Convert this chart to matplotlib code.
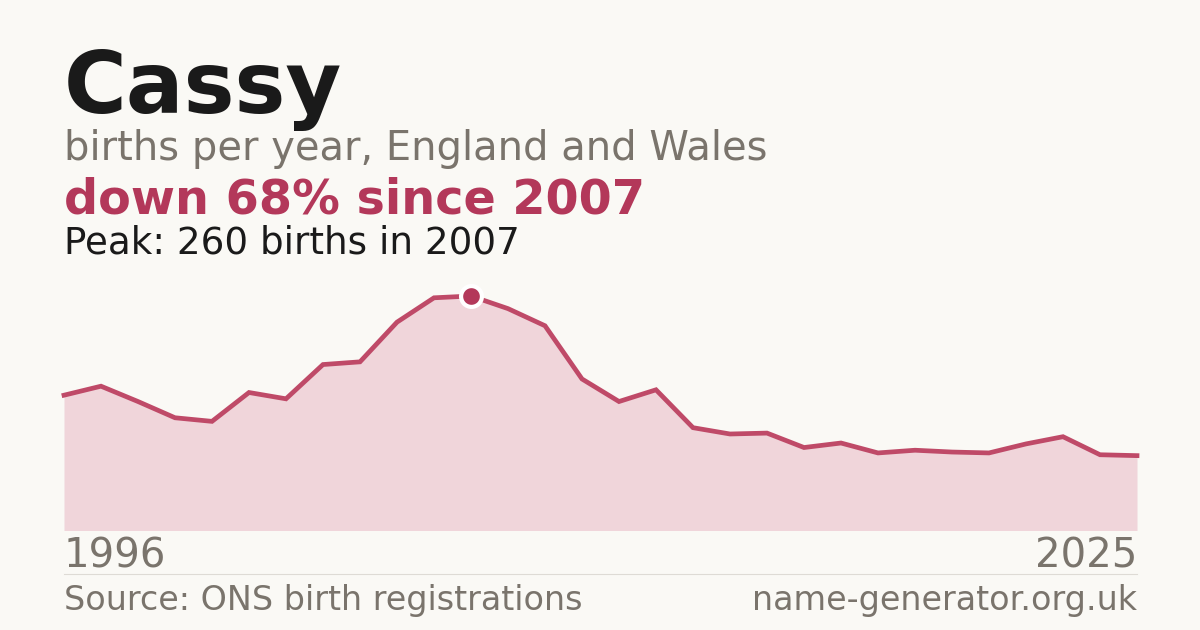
import matplotlib
matplotlib.use("Agg")
import matplotlib.pyplot as plt

years = list(range(1996, 2026))
births = [150, 160, 143, 125, 121, 153, 146, 184, 187, 231,
          258, 260, 246, 227, 168, 143, 156, 114, 107, 108,
          92, 97, 86, 89, 87, 86, 96, 104, 84, 83]

title = "Cassy"
subtitle = "births per year, England and Wales"
headline = "down 68% since 2007"
peak_text = "Peak: 260 births in 2007"
source = "Source: ONS birth registrations"
site = "name-generator.org.uk"

BG = "#faf9f5"
RED = "#b3385a"
LINE = "#bf4a68"
FILL = "#f0d5da"
GREY = "#7a746c"
DARK = "#1a1a1a"

W, H = 1200, 630
fig = plt.figure(figsize=(12, 6.3), dpi=100, facecolor=BG)

def fx(px):
    return px / W

def fy(py):
    return 1 - py / H

left, right = 64, 1137
bottom, top = 530.5, 296
ax = fig.add_axes([fx(left), fy(bottom), fx(right - left), (bottom - top) / H])
ax.set_facecolor(BG)
ax.patch.set_alpha(0)
ax.fill_between(years, births, 0, color=FILL, lw=0)
ax.plot(years, births, color=LINE, lw=3.4, solid_joinstyle="miter", clip_on=False)
pi = births.index(max(births))
ax.plot([years[pi]], [births[pi]], "o", ms=15, mfc=RED, mec="white", mew=3, clip_on=False, zorder=5)
ax.set_xlim(years[0], years[-1])
ax.set_ylim(0, max(births))
ax.axis("off")

fig.text(fx(64), fy(113), title, fontsize=61.7, fontweight="bold", color=DARK, va="baseline", ha="left")
fig.text(fx(64), fy(160), subtitle, fontsize=28.8, color=GREY, va="baseline", ha="left")
fig.text(fx(64), fy(214), headline, fontsize=34.4, fontweight="bold", color=RED, va="baseline", ha="left")
fig.text(fx(64), fy(254), peak_text, fontsize=26.8, color=DARK, va="baseline", ha="left")

fig.text(fx(64), fy(568), str(years[0]), fontsize=29, color=GREY, va="baseline", ha="left")
fig.text(fx(1137), fy(568), str(years[-1]), fontsize=29, color=GREY, va="baseline", ha="right")
fig.add_artist(plt.Line2D([fx(64), fx(1137)], [fy(574), fy(574)], color="#dedbd5", lw=0.8))
fig.text(fx(64), fy(610), source, fontsize=24, color=GREY, va="baseline", ha="left")
fig.text(fx(1137), fy(610), site, fontsize=24, color=GREY, va="baseline", ha="right")

fig.savefig("out.png", dpi=100, facecolor=BG)
